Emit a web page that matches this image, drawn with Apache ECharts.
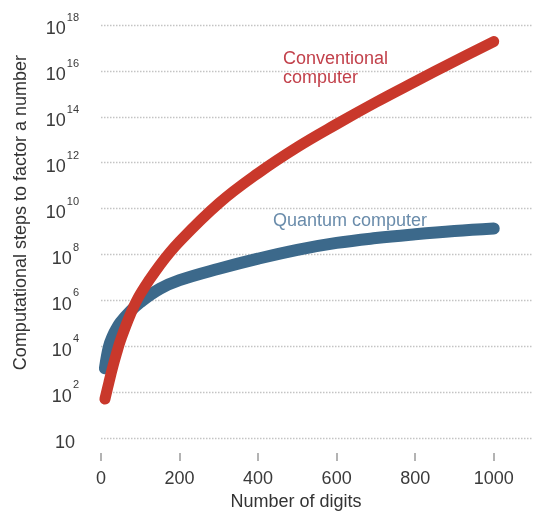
<!DOCTYPE html>
<html><head><meta charset="utf-8">
<script src="https://cdn.jsdelivr.net/npm/echarts@6/dist/echarts.min.js"></script>
<style>html,body{margin:0;padding:0;background:#fff}#c{width:536px;height:516px}</style>
</head><body><div id="c"></div>
<script>
// Number of digits (x)
const digits = [10, 20, 30, 40, 50, 75, 100, 150, 200, 300, 400, 500, 600, 700, 800, 900, 1000];
// Computational steps
const conventionalSteps = [5.0e1, 2.6e2, 1.26e3, 5.2e3, 1.9e4, 2.5e5, 1.9e6, 3.5e7, 3.7e8, 1.7e10, 3.5e11, 4.8e12, 4.8e13, 4.3e14, 3.4e15, 2.6e16, 1.9e17];
const quantumSteps = [1.1e3, 9.5e3, 2.8e4, 6.0e4, 1.12e5, 3.4e5, 8.3e5, 3.2e6, 7.6e6, 2.4e7, 6.6e7, 1.6e8, 3.2e8, 5.2e8, 7.6e8, 1.05e9, 1.35e9];
// Tick labels
const xTickValues = [0, 200, 400, 600, 800, 1000];
const yTickBase = ['10', '10', '10', '10', '10', '10', '10', '10', '10', '10'];
const yTickExp = ['', '2', '4', '6', '8', '10', '12', '14', '16', '18'];
const seriesNames = ['Quantum computer', 'Conventional computer'];

const FONT = '"Liberation Sans", Arial, Helvetica, sans-serif';
const chart = echarts.init(document.getElementById('c'), null, {renderer: 'canvas'});

chart.setOption({
  backgroundColor: '#ffffff',
  animation: false,
  textStyle: {fontFamily: FONT},
  grid: {left: 101, right: 3, top: 25, bottom: 73.5, containLabel: false},
  xAxis: {
    type: 'value', min: 0, max: 1100,
    offset: 15,
    axisLine: {show: false},
    axisTick: {show: true, length: 8, customValues: xTickValues, lineStyle: {color: '#9a9a9a', width: 1.5}},
    axisLabel: {customValues: xTickValues, margin: 17, fontSize: 18, color: '#3a3a3a', fontFamily: FONT,
      formatter: function (v) { return String(v); }},
    splitLine: {show: false},
    name: 'Number of digits', nameLocation: 'middle', nameGap: 38,
    nameTextStyle: {fontSize: 18, color: '#333', fontFamily: FONT, padding: [0, 42, 0, 0]}
  },
  yAxis: {
    type: 'log', logBase: 100, min: 1, max: 1e18, interval: 1,
    axisLine: {show: false},
    axisTick: {show: false},
    axisLabel: {
      margin: 22,
      padding: [9, 0, 0, 0],
      formatter: function (v) {
        const k = Math.round(Math.log10(v) / 2);
        return '{b|' + yTickBase[k] + '}{e|' + (yTickExp[k] || ' ') + '}';
      },
      rich: {
        b: {fontSize: 18, lineHeight: 34, color: '#3a3a3a', fontFamily: FONT},
        e: {fontSize: 11, lineHeight: 11, padding: [0, 0, 0, 1], color: '#3a3a3a', fontFamily: FONT, verticalAlign: 'top'}
      }
    },
    splitLine: {show: true, lineStyle: {color: '#c4c4c4', width: 1.4, type: [1.5, 1.5]}},
    name: 'Computational steps to factor a number', nameLocation: 'middle', nameGap: 71,
    nameTextStyle: {fontSize: 18, color: '#333', fontFamily: FONT, padding: [0, 0, 0, 38]}
  },
  series: [
    {
      name: seriesNames[0], type: 'line', smooth: 0.4, showSymbol: false, symbol: 'none',
      data: digits.map((d, i) => [d, quantumSteps[i]]),
      lineStyle: {color: '#3c698b', width: 12, cap: 'round', join: 'round'},
      z: 2
    },
    {
      name: seriesNames[1], type: 'line', smooth: 0.4, showSymbol: false, symbol: 'none',
      data: digits.map((d, i) => [d, conventionalSteps[i]]),
      lineStyle: {color: '#c9382b', width: 11, cap: 'round', join: 'round'},
      z: 3
    }
  ],
  graphic: [
    {type: 'text', left: 283, top: 50, z: 10,
     style: {text: 'Conventional\ncomputer', font: '18px ' + FONT, fill: '#c2414b', lineHeight: 19}},
    {type: 'text', left: 273, top: 212, z: 10,
     style: {text: 'Quantum computer', font: '18px ' + FONT, fill: '#6a8cab'}}
  ]
});
</script></body></html>
